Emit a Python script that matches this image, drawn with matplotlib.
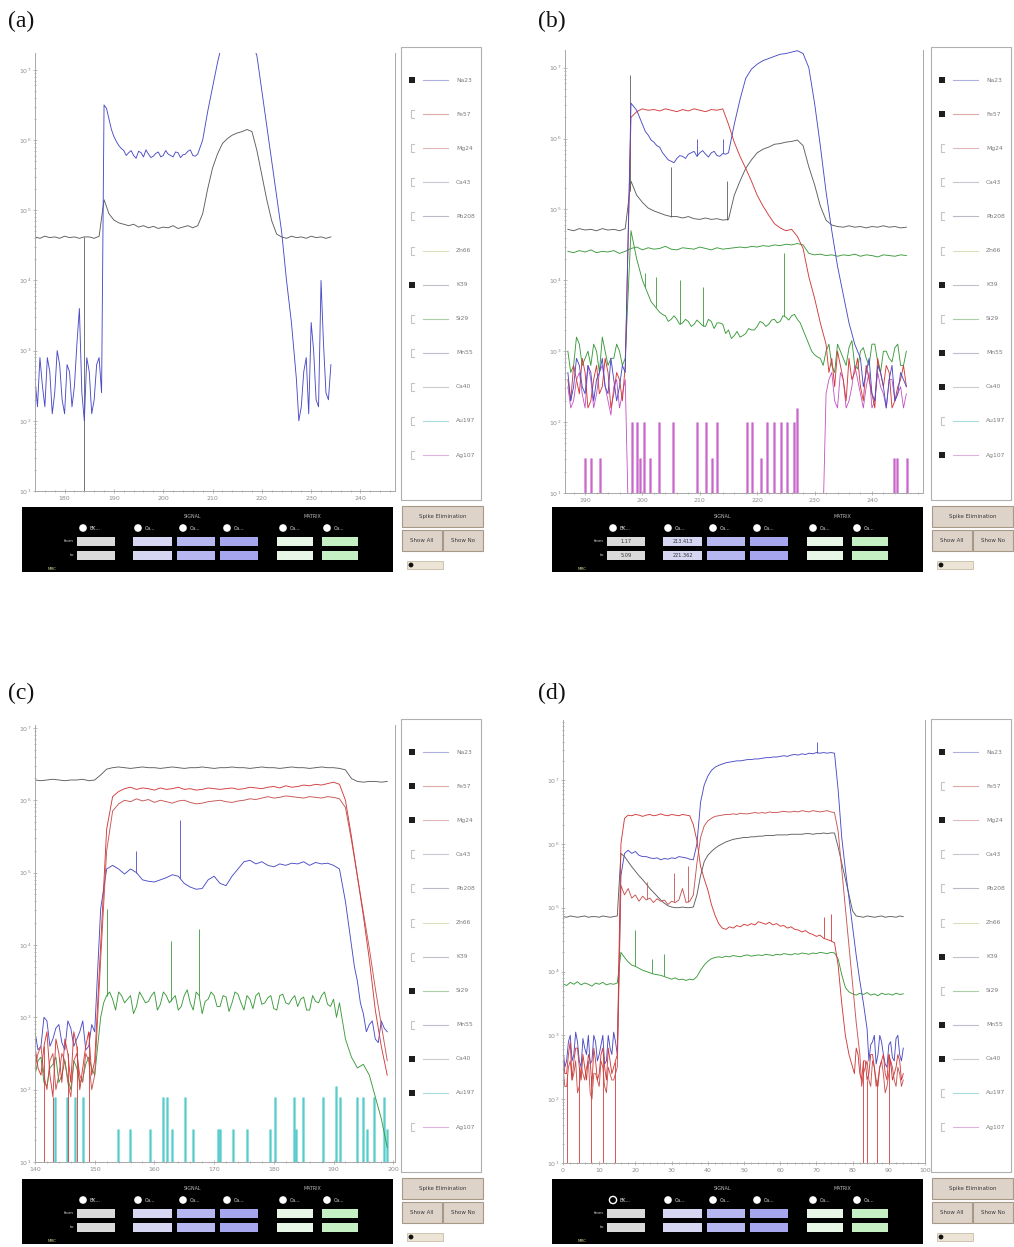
import numpy as np
import matplotlib
matplotlib.use("Agg")
import matplotlib.pyplot as plt
from matplotlib.patches import Rectangle, Circle
from matplotlib.ticker import LogLocator, MultipleLocator, NullFormatter

W, H = 1014, 1247
plt.rcParams["font.family"] = ["DejaVu Sans"]

# ---------------------------------------------------------------------------
# Element list shown in every legend panel
# ---------------------------------------------------------------------------
ELEMENTS = ["Na23", "Fe57", "Mg24", "Ca43", "Pb208", "Zn66",
            "K39", "Si29", "Mn55", "Ca40", "Au197", "Ag107"]
checked_a = [1, 0, 0, 0, 0, 0, 1, 0, 0, 0, 0, 0]
checked_b = [1, 1, 0, 0, 0, 0, 1, 0, 1, 1, 0, 1]
checked_c = [1, 1, 1, 0, 0, 0, 0, 1, 0, 1, 1, 0]
checked_d = [1, 0, 1, 0, 0, 0, 1, 0, 1, 1, 0, 0]

# ---------------------------------------------------------------------------
# Time-resolved signals, log10(counts per second).
# Main arrays: one sample per second from the start time.
# *_h arrays: (first time, values) for the extra half-second readings.
# ---------------------------------------------------------------------------
# (a) start time 174 s
A_T0 = 174
a_na23 = [2.6, 2.9, 2.2, 2.7, 2.4, 2.8, 2.1, 2.7, 2.5, 3.6, 2.0, 2.7, 2.3, 2.9,
          6.5, 6.3, 6.05, 5.92, 5.85, 5.82, 5.78, 5.84, 5.76, 5.8, 5.77, 5.83, 5.78, 5.8,
          5.76, 5.82, 5.79, 5.84, 5.78, 5.8,
          6.0, 6.4, 6.75, 7.1, 7.4, 7.4, 7.4, 7.4, 7.4, 7.4, 7.4,
          7.2, 6.7, 6.2, 5.7, 5.2, 4.7, 4.0, 3.4, 2.6, 2.2, 2.9, 3.4, 2.3, 4.0, 2.4, 2.8]
a_na23_h = [(174.5, [2.2, 2.5, 2.9, 2.1, 3.0, 2.3, 2.8, 2.2, 3.1, 2.4, 2.9, 2.1, 2.8, 2.4]),
            (188.5, [6.45, 6.15, 5.98, 5.88, 5.78, 5.85, 5.74, 5.82, 5.86, 5.75, 5.81, 5.76,
                     5.85, 5.78, 5.83, 5.75, 5.8, 5.86, 5.77]),
            (227.5, [2.0, 2.7, 2.1, 3.0, 2.2, 3.1, 2.3])]
a_k39 = [4.62, 4.6, 4.63, 4.61, 4.62, 4.6, 4.63, 4.61, 4.62, 4.6, 4.62, 4.62, 4.6, 4.63,
         5.15, 4.95, 4.86, 4.82, 4.8, 4.78, 4.8, 4.76, 4.78, 4.75, 4.77, 4.74, 4.76, 4.75,
         4.78, 4.74, 4.76, 4.78, 4.75, 4.78,
         4.95, 5.3, 5.6, 5.8, 5.95, 6.02, 6.07, 6.1, 6.12, 6.15, 6.12,
         5.85, 5.5, 5.15, 4.85, 4.66, 4.62, 4.6, 4.63, 4.61, 4.62, 4.6, 4.63, 4.61, 4.62,
         4.6, 4.62]
a_k39_drop_t = [184.0]

# (b) start time 187 s
B_T0 = 187
b_na23 = [2.7, 2.5, 2.8, 2.4, 2.7, 2.6, 2.9, 2.4, 2.6, 2.5, 2.7,
          6.5, 6.4, 6.2, 6.05, 5.95, 5.88, 5.75, 5.68, 5.72, 5.75, 5.78, 5.82, 5.8, 5.78,
          5.8, 5.76, 5.79, 5.8,
          6.2, 6.55, 6.85, 6.98, 7.05, 7.1, 7.13, 7.16, 7.19, 7.2, 7.22, 7.24, 7.2,
          7.0, 6.5, 5.9, 5.25, 4.7, 4.2, 3.8, 3.4, 3.1, 2.9, 2.7, 2.4, 2.8, 2.5, 2.6, 2.3,
          2.7, 2.5]
b_na23_h = [(187.5, [2.3, 2.9, 2.5, 2.8, 2.3, 2.7, 2.5, 2.9, 2.3, 2.8]),
            (199.5, [6.3, 6.1, 5.98, 5.9, 5.8, 5.7, 5.66, 5.76, 5.72, 5.8, 5.75, 5.83,
                     5.74, 5.82, 5.75, 5.78]),
            (238.5, [2.5, 2.9, 2.3, 2.7, 2.2, 2.8, 2.4, 2.6])]
b_na23_spk_t = [209.5, 214.0]
b_na23_spk_v = [6.0, 6.0]
b_k39 = [4.72, 4.7, 4.73, 4.71, 4.72, 4.7, 4.73, 4.71, 4.72, 4.7, 4.73,
         5.4, 5.2, 5.1, 5.02, 4.98, 4.95, 4.92, 4.9, 4.9, 4.88, 4.9, 4.87, 4.86, 4.88,
         4.86, 4.87, 4.85, 4.86,
         5.2, 5.4, 5.58, 5.7, 5.8, 5.85, 5.88, 5.92, 5.93, 5.95, 5.96, 5.98, 5.9,
         5.6, 5.35, 5.05, 4.85, 4.78, 4.76, 4.75, 4.77, 4.75, 4.76, 4.74, 4.76, 4.75,
         4.77, 4.75, 4.76, 4.74, 4.75]
b_k39_spk_t = [197.8, 205.0, 214.7]
b_k39_spk_v = [6.9, 5.6, 5.4]
b_fe57 = [2.6, 2.8, 2.4, 2.7, 2.3, 2.8, 2.5, 2.7, 2.4, 2.6, 2.8,
          6.3, 6.38, 6.42, 6.4, 6.41, 6.39, 6.42, 6.4, 6.38, 6.41, 6.39, 6.42, 6.4, 6.38,
          6.41, 6.4, 6.42,
          6.2, 5.95, 5.75, 5.58, 5.4, 5.2, 5.05, 4.92, 4.8, 4.74, 4.7, 4.72, 4.62, 4.45,
          4.05, 3.75, 3.4, 3.1, 2.9, 3.0, 2.6, 2.9, 2.7, 2.5, 2.8, 2.4, 2.9, 2.5, 2.7,
          2.3, 2.6, 2.5]
b_fe57_h = [(187.5, [2.3, 2.6, 2.9, 2.2, 2.6, 2.4, 2.9, 2.2, 2.7, 2.3]),
            (232.5, [2.7, 2.5, 2.8, 2.3, 2.6, 2.9, 2.3, 2.6, 2.2, 2.7, 2.8, 2.2, 2.5, 2.8])]
b_ca40 = [4.41, 4.39, 4.42, 4.40, 4.43, 4.39, 4.41, 4.40, 4.42, 4.38, 4.41,
          4.45, 4.47, 4.43, 4.46, 4.44, 4.45, 4.48, 4.44, 4.43, 4.46, 4.45, 4.44, 4.47,
          4.45, 4.43, 4.46, 4.44, 4.45, 4.46, 4.47, 4.46, 4.48, 4.47, 4.49, 4.48, 4.5,
          4.49, 4.51, 4.5, 4.52, 4.5,
          4.38, 4.36, 4.37, 4.35, 4.36, 4.34, 4.36, 4.35, 4.37, 4.34, 4.36, 4.35, 4.33,
          4.36, 4.35, 4.34, 4.36, 4.35]
b_mn55 = [3.0, 2.8, 3.1, 2.9, 2.8, 3.0, 3.2, 2.8, 2.9, 3.0, 2.9,
          4.7, 4.3, 4.0, 3.8, 3.65, 3.55, 3.5, 3.45, 3.45, 3.4, 3.42, 3.38, 3.4, 3.35,
          3.42, 3.4, 3.38, 3.3, 3.22, 3.2, 3.25, 3.3, 3.35, 3.4, 3.38, 3.45, 3.42, 3.48,
          3.5, 3.45, 3.3, 3.1, 2.95, 2.9,
          3.0, 2.8, 3.1, 2.9, 3.05, 2.8, 3.0, 2.9, 3.1, 2.85, 3.0, 2.9, 3.05, 2.8, 3.0]
b_mn55_h = [(187.5, [2.7, 3.2, 2.8, 3.0, 3.1, 2.7, 3.0, 2.9, 3.1, 2.8]),
            (199.5, [4.15, 3.9, 3.7, 3.6, 3.52, 3.42, 3.5, 3.38, 3.45, 3.35,
                     3.44, 3.36, 3.45, 3.32, 3.4, 3.25, 3.18, 3.28, 3.22, 3.32,
                     3.3, 3.42, 3.35, 3.44, 3.4, 3.5, 3.44, 3.52, 3.4, 3.2, 3.0, 2.92]),
            (231.5, [2.8, 3.1, 2.7, 3.0, 2.8, 3.15, 2.75, 3.05, 2.8, 3.1, 2.7, 3.0, 2.85,
                     3.1, 2.8])]
b_mn55_spk_t = [200.5, 202.3, 206.5, 210.5, 224.7]
b_mn55_spk_v = [4.1, 4.05, 4.0, 3.9, 4.38]
b_ag107 = [2.5, 2.3, 2.7, 2.2, 2.6, 2.4, 2.8, 2.3, 2.5, 2.2, 2.6] + [-1.0] * 34 + \
          [2.4, 2.7, 2.2, 2.6, 2.3, 2.8, 2.4, 2.5, 2.2, 2.7, 2.4, 2.6, 2.3, 2.5, 2.4]
b_ag107_h = [(187.5, [2.2, 2.6, 2.4, 2.8, 2.2, 2.7, 2.5, 2.1, 2.6, 2.4]),
             (232.5, [2.6, 2.3, 2.7, 2.2, 2.5, 2.6, 2.2, 2.7, 2.3, 2.5, 2.2, 2.6, 2.4, 2.2])]
b_ag107_bar_t = [190.0, 191.1, 192.6, 198.1, 199.0, 199.6, 200.2, 201.3, 202.8, 205.4,
                 209.5, 211.0, 212.1, 213.0, 218.2, 219.1, 220.6, 221.7, 222.9, 224.1,
                 225.2, 226.4, 226.9, 243.8, 244.4, 246.1]
b_ag107_bar_v = [1.5, 1.5, 1.5, 2.0, 2.0, 1.5, 2.0, 1.5, 2.0, 2.0,
                 2.0, 2.0, 1.5, 2.0, 2.0, 2.0, 1.5, 2.0, 2.0, 2.0,
                 2.0, 2.0, 2.2, 1.5, 1.5, 1.5]

# (c) start time 140 s
C_T0 = 140
c_ca40 = [6.28, 6.27, 6.28, 6.29, 6.28, 6.27, 6.28, 6.28, 6.29, 6.27, 6.28,
          6.35, 6.43,
          6.45, 6.46, 6.45, 6.44, 6.45, 6.46, 6.45, 6.45, 6.44, 6.45,
          6.46, 6.45, 6.44, 6.45, 6.45, 6.46, 6.45, 6.44, 6.45, 6.45,
          6.46, 6.45, 6.45, 6.44, 6.45, 6.46, 6.45, 6.45, 6.44, 6.45,
          6.46, 6.45, 6.45, 6.44, 6.45, 6.46, 6.45, 6.45, 6.44,
          6.42, 6.3,
          6.26, 6.25, 6.26, 6.26, 6.25, 6.26]
c_fe57 = [2.6, 2.2, 2.8, 1.9, 2.5, 2.7, 2.1, 2.6, 2.3, 2.8, 2.4,
          4.0, 5.6, 6.05, 6.12,
          6.16, 6.18, 6.15, 6.17, 6.16, 6.14, 6.17, 6.15, 6.16, 6.18,
          6.15, 6.16, 6.14, 6.15, 6.17, 6.16, 6.15, 6.16, 6.17, 6.15,
          6.16, 6.18, 6.17, 6.16, 6.18, 6.19, 6.17, 6.2, 6.18, 6.19,
          6.21, 6.2, 6.22, 6.21, 6.23, 6.25, 6.22,
          6.0, 5.5, 4.95, 4.4, 3.8, 3.1, 2.6, 2.2]
c_fe57_h = [(140.5, [2.3, 2.6, 2.2, 2.7, 2.1, 2.5, 2.8, 2.0, 2.6, 2.2])]
c_fe57_drop_t = [141.5, 143.0, 145.5, 147.0, 149.0]
c_mg24 = [2.3, 2.6, 2.0, 2.5, 2.2, 2.4, 1.9, 2.5, 2.1, 2.4, 2.2,
          3.8, 5.3, 5.85, 5.95,
          6.0, 5.98, 6.02, 5.99, 6.01, 5.97, 6.0, 5.98, 5.96, 5.99,
          6.0, 5.97, 5.95, 5.96, 5.98, 5.99, 6.0, 5.98, 5.97, 5.99,
          6.0, 6.02, 6.01, 6.03, 6.05, 6.03, 6.04, 6.06, 6.05, 6.04,
          6.03, 6.05, 6.04, 6.03, 6.05, 6.04, 6.02,
          5.9, 5.45, 4.95, 4.45, 3.95, 3.4, 2.9, 2.4]
c_mg24_h = [(140.5, [2.5, 2.2, 2.4, 2.0, 2.5, 2.1, 2.4, 2.2, 2.5, 2.0])]
c_na23 = [2.8, 2.6, 2.95, 2.7, 2.9, 2.55, 2.85, 2.7, 2.95, 2.6, 2.8,
          4.5, 5.05, 5.1, 5.05, 4.98, 5.05, 5.0, 4.9, 4.88, 4.87,
          4.9, 4.93, 4.97, 4.95, 4.85, 4.8, 4.77, 4.78, 4.9, 4.95,
          4.85, 4.82, 4.95, 5.05, 5.15, 5.17, 5.12, 5.15, 5.1, 5.08,
          5.12, 5.1, 5.13, 5.12, 5.15, 5.1, 5.14, 5.12, 5.13, 5.1,
          5.05,
          4.6, 4.0, 3.5, 3.05, 2.9, 2.7, 2.95, 2.8]
c_na23_h = [(140.5, [2.55, 3.0, 2.6, 2.85, 2.65, 2.95, 2.6, 2.8, 2.55, 2.9]),
            (193.5, [3.7, 3.2, 2.8, 2.95, 2.65, 2.85])]
c_na23_spk_t = [157.0, 164.3]
c_na23_spk_v = [5.3, 5.73]
c_si29 = [2.2, 2.45, 2.05, 2.35, 2.1, 2.4, 2.0, 2.3, 2.15, 2.45, 2.2,
          3.0, 3.3, 3.25, 3.35, 3.2, 3.3, 3.15, 3.28, 3.22, 3.35,
          3.18, 3.3, 3.25, 3.1, 3.3, 3.2, 3.35, 3.05, 3.25, 3.3,
          3.15, 3.28, 3.2, 3.32, 3.1, 3.25, 3.3, 3.18, 3.27, 3.12,
          3.3, 3.2, 3.25, 3.15, 3.28, 3.1, 3.22, 3.3, 3.18, 3.25,
          3.2,
          2.7, 2.45, 2.3, 2.35, 2.2, 1.9, 1.6, 1.2]
c_si29_h = [(140.5, [2.4, 2.1, 2.3, 2.45, 2.2, 2.15, 2.4, 2.1, 2.35, 2.3]),
            (151.5, [3.2, 3.35, 3.1, 3.3, 3.25, 3.05, 3.35, 3.2, 3.3, 3.1,
                     3.35, 3.2, 3.3, 3.15, 3.38, 3.1, 3.3, 3.22, 3.35, 3.15,
                     3.3, 3.08, 3.35, 3.2, 3.3, 3.12, 3.34, 3.2, 3.3, 3.1,
                     3.32, 3.18, 3.3, 3.25, 3.1, 3.3, 3.2, 3.35, 3.15, 3.0])]
c_si29_spk_t = [152.0, 162.7, 167.5]
c_si29_spk_v = [4.5, 4.05, 4.22]
c_au197_bar_t = [143.35, 145.3, 146.7, 148.1, 153.9, 155.9, 159.3, 161.5, 162.1, 162.9,
                 165.1, 166.5, 170.7, 171.0, 173.2, 175.5, 179.4, 180.2, 183.3, 183.8,
                 184.9, 188.3, 190.5, 191.1, 193.9, 195.0, 195.6, 196.7, 198.4, 198.9]
c_au197_bar_v = [1.9, 1.9, 1.9, 1.9, 1.45, 1.45, 1.45, 1.9, 1.9, 1.45,
                 1.9, 1.45, 1.45, 1.45, 1.45, 1.45, 1.45, 1.9, 1.9, 1.45,
                 1.9, 1.9, 2.05, 1.9, 1.9, 1.9, 1.45, 1.9, 1.9, 1.45]

# (d) start time 0 s
D_T0 = 0
d_k39 = [4.86, 4.85, 4.87, 4.86, 4.85, 4.86, 4.87, 4.85, 4.86, 4.86, 4.85, 4.87, 4.86,
         4.85, 4.86, 4.87,
         5.85, 5.8, 5.72, 5.64, 5.57, 5.5, 5.44, 5.37, 5.3, 5.24, 5.18, 5.12, 5.07, 5.03,
         5.01, 5.0, 5.0, 5.01, 5.0, 5.0, 5.01,
         5.2, 5.5, 5.72, 5.82, 5.88, 5.93, 5.97, 6.0, 6.03, 6.05,
         6.07, 6.08, 6.09, 6.1, 6.1, 6.11, 6.11, 6.12, 6.12, 6.13,
         6.13, 6.13, 6.14, 6.14, 6.14, 6.14, 6.15, 6.15, 6.15, 6.15,
         6.16, 6.16, 6.15, 6.16, 6.16, 6.17, 6.16, 6.17, 6.17,
         5.95, 5.7, 5.45, 5.2, 4.95, 4.87, 4.86, 4.85, 4.87, 4.86, 4.85, 4.86, 4.87, 4.85,
         4.86, 4.86, 4.85, 4.87, 4.86]
d_na23 = [2.8, 2.6, 3.0, 2.7, 2.9, 2.5, 2.8, 3.0, 2.6, 2.9, 2.7, 3.0, 2.6, 2.8, 3.05, 2.7,
          5.5, 5.85, 5.9, 5.85, 5.88, 5.82, 5.8, 5.8, 5.78, 5.77, 5.78, 5.75, 5.77, 5.76,
          5.78, 5.77, 5.8, 5.79, 5.78, 5.76, 5.75,
          6.0, 6.65, 6.92, 7.06, 7.15, 7.2, 7.23, 7.25, 7.27, 7.28,
          7.29, 7.3, 7.3, 7.31, 7.32, 7.32, 7.33, 7.33, 7.34, 7.35,
          7.35, 7.36, 7.36, 7.37, 7.38, 7.37, 7.39, 7.4, 7.39, 7.41,
          7.4, 7.42, 7.41, 7.43, 7.42, 7.43, 7.42, 7.43, 7.42,
          6.85, 6.1, 5.6, 5.15, 4.7, 4.25, 3.85, 3.5, 3.1, 2.85, 3.0, 2.7, 2.9, 2.55, 2.85,
          2.65, 2.95, 2.7, 2.8]
d_na23_h = [(0.5, [2.5, 2.9, 2.6, 3.05, 2.6, 2.95, 2.7, 2.55, 3.0, 2.6, 2.85, 2.55, 3.0,
                   2.7, 2.9]),
            (84.5, [2.6, 2.9, 2.55, 3.0, 2.7, 2.5, 2.9, 2.6, 3.0, 2.6])]
d_na23_spk_t = [70.2]
d_na23_spk_v = [7.6]
d_mn55 = [2.7, 2.4, 2.9, 2.6, 2.8, 2.3, 2.5, 2.7, 2.2, 2.6, 2.4, 2.8, 2.3, 2.6, 2.5, 2.7,
          6.0, 6.4, 6.45, 6.44, 6.46, 6.45, 6.43, 6.45, 6.46, 6.44, 6.45, 6.47, 6.45, 6.44,
          6.46, 6.45, 6.44, 6.46, 6.45, 6.44,
          6.3, 6.05, 5.65, 5.45, 5.28, 5.05, 4.88, 4.75, 4.68,
          4.66, 4.7, 4.68, 4.72, 4.7, 4.74, 4.72, 4.75, 4.73, 4.78,
          4.76, 4.74, 4.77, 4.73, 4.75, 4.71, 4.72, 4.68, 4.7, 4.66,
          4.65, 4.62, 4.64, 4.6, 4.58, 4.55, 4.57, 4.52, 4.5, 4.48, 4.45,
          4.1, 3.5, 3.0, 2.7, 2.5, 2.8, 2.4, 2.6, 2.3, 2.7, 2.5, 2.2, 2.6, 2.4, 2.7, 2.3,
          2.5, 2.6, 2.4]
d_mn55_h = [(0.5, [2.4, 2.7, 2.3, 2.8, 2.5, 2.7, 2.3, 2.6, 2.8, 2.3, 2.7, 2.5, 2.8, 2.4,
                   2.6]),
            (79.5, [2.6, 2.4, 2.7, 2.3, 2.6, 2.4, 2.7, 2.3, 2.5, 2.7, 2.3, 2.6, 2.4, 2.7,
                    2.3])]
d_mn55_spk_t = [72.0, 74.0]
d_mn55_spk_v = [4.85, 4.9]
d_red_drop_t = [1.0, 4.5, 7.8, 11.1, 14.4, 83.0, 84.0, 86.7, 90.0]
d_fe57 = [2.5, 2.2, 2.6, 2.4, 2.1, 2.5, 2.3, 2.6, 2.0, 2.4, 2.2, 2.5, 2.1, 2.4, 2.3, 2.5,
          5.35, 5.2, 5.3, 5.15, 5.2, 5.1, 5.18, 5.12, 5.15, 5.08, 5.14, 5.1, 5.12, 5.05,
          5.1, 5.08, 5.12, 5.3, 5.08, 5.1, 5.2,
          5.7, 6.1, 6.28, 6.36, 6.4, 6.43, 6.44, 6.45, 6.46, 6.46,
          6.47, 6.46, 6.48, 6.47, 6.47, 6.48, 6.49, 6.48, 6.49, 6.48,
          6.5, 6.49, 6.49, 6.5, 6.51, 6.5, 6.5, 6.51, 6.5, 6.52,
          6.51, 6.5, 6.52, 6.51, 6.5, 6.51, 6.52, 6.5, 6.49,
          6.2, 5.6, 5.0, 4.4, 3.8, 3.2, 2.7, 2.4, 2.6, 2.2, 2.5, 2.3, 2.6, 2.1, 2.4, 2.5,
          2.2, 2.4, 2.3]
d_fe57_h = [(0.5, [2.2, 2.5, 2.3, 2.6, 2.2, 2.4, 2.5, 2.1, 2.4, 2.3, 2.6, 2.2, 2.5, 2.3,
                   2.4]),
            (82.5, [2.2, 2.5, 2.3, 2.6, 2.2, 2.5, 2.4, 2.2, 2.6, 2.3, 2.5, 2.2])]
d_fe57_spk_t = [23.3, 30.7, 34.5]
d_fe57_spk_v = [5.4, 5.55, 5.65]
d_si29 = [3.81, 3.78, 3.83, 3.8, 3.84, 3.79, 3.82, 3.8, 3.77, 3.82, 3.8, 3.83, 3.79,
          3.81, 3.8, 3.82,
          4.3, 4.22, 4.15, 4.1, 4.08, 4.05, 4.02, 4.0, 3.98, 3.96, 3.95, 3.94, 3.92, 3.9,
          3.88, 3.9, 3.87, 3.88, 3.86, 3.88, 3.87,
          3.92, 4.02, 4.1, 4.16, 4.2, 4.22, 4.23, 4.22, 4.24, 4.23,
          4.25, 4.24, 4.23, 4.25, 4.26, 4.24, 4.25, 4.26, 4.25, 4.27,
          4.26, 4.25, 4.27, 4.26, 4.28, 4.27, 4.26, 4.28, 4.27, 4.29,
          4.28, 4.27, 4.29, 4.28, 4.3, 4.29, 4.28, 4.3, 4.29,
          4.2, 3.95, 3.75, 3.68, 3.65, 3.63, 3.66, 3.64, 3.67, 3.63, 3.65, 3.62, 3.66,
          3.64, 3.65, 3.63, 3.66, 3.64, 3.65]
d_si29_spk_t = [20.0, 24.5, 27.9]
d_si29_spk_v = [4.65, 4.2, 4.28]

# Axis tick labels
a_xticks = [180, 190, 200, 210, 220, 230, 240]
b_xticks = [190, 200, 210, 220, 230, 240]
c_xticks = [140, 150, 160, 170, 180, 190, 200]
d_xticks = [0, 10, 20, 30, 40, 50, 60, 70, 80, 90, 100]

# ---------------------------------------------------------------------------
BLUE, RED, RED2, GRAY = "#4b4bc6", "#d23a3a", "#c85454", "#5e5e5e"
GREEN, MAGENTA, CYAN = "#3b9a3b", "#c24fc2", "#3fc4c4"
LEGEND_COLORS = ["#7a7ad0", "#d07070", "#d08888", "#a0a0b4", "#8a8aa0", "#c8c890",
                 "#9a9aae", "#70b070", "#9090bc", "#ababab", "#70c4c4", "#c880c8"]

fig = plt.figure(figsize=(W / 100, H / 100), dpi=100)
fig.patch.set_facecolor("white")


def px_axes(x0, y0, x1, y1, **kw):
    return fig.add_axes([x0 / W, 1 - y1 / H, (x1 - x0) / W, (y1 - y0) / H], **kw)


def style_axes(ax, xlim, ylog, xticks, xminor):
    ax.set_yscale("log")
    ax.set_xlim(*xlim)
    ax.set_ylim(10.0 ** ylog[0], 10.0 ** ylog[1])
    ax.set_xticks(xticks)
    ax.xaxis.set_minor_locator(MultipleLocator(xminor))
    ax.yaxis.set_major_locator(LogLocator(base=10, numticks=15))
    ax.yaxis.set_minor_locator(LogLocator(base=10, subs=np.arange(2, 10) * 1.0, numticks=15))
    ax.yaxis.set_minor_formatter(NullFormatter())
    ax.tick_params(which="both", direction="inout", colors="#a0a0a0",
                   labelcolor="#8c8c8c", labelsize=4.5, width=0.5)
    ax.tick_params(which="major", length=3)
    ax.tick_params(which="minor", length=1.6)
    ax.tick_params(axis="y", pad=1)
    ax.tick_params(axis="x", pad=2)
    for side in ("left", "bottom", "right"):
        ax.spines[side].set_color("#a8a8a8")
        ax.spines[side].set_linewidth(0.7)
    ax.spines["top"].set_visible(False)


def trace(ax, t0, values, color, lw=0.65, halves=(), spk_t=None, spk_v=None,
          drop_t=None, z=2):
    t = list(t0 + np.arange(len(values)))
    v = list(values)
    for h0, hv in halves:
        t += list(h0 + np.arange(len(hv)))
        v += list(hv)
    order = np.argsort(t)
    t = np.asarray(t, dtype=float)[order]
    v = np.asarray(v, dtype=float)[order]
    ax.plot(t, 10.0 ** v, color=color, lw=lw, zorder=z)
    if spk_t:
        base = np.interp(spk_t, t, v)
        ax.vlines(spk_t, 10.0 ** base, 10.0 ** np.asarray(spk_v), color=color, lw=0.6, zorder=z)
    if drop_t:
        base = np.interp(drop_t, t, v)
        ax.vlines(drop_t, 0.1, 10.0 ** base, color=color, lw=0.6, zorder=z)


def bars(ax, bar_t, bar_v, color):
    ax.vlines(bar_t, 0.1, 10.0 ** np.asarray(bar_v), color=color, lw=2.2, alpha=0.55, zorder=1)
    ax.vlines(bar_t, 0.1, 10.0 ** np.asarray(bar_v), color=color, lw=0.5, zorder=1)


# ---------------- (a) ----------------
ax_a = px_axes(35, 53, 395, 491)
style_axes(ax_a, (174, 247), (1, 7.24), a_xticks, 2)
trace(ax_a, A_T0, a_k39, GRAY, drop_t=a_k39_drop_t)
trace(ax_a, A_T0, a_na23, BLUE, halves=a_na23_h)

# ---------------- (b) ----------------
ax_b = px_axes(565, 50, 923, 493)
style_axes(ax_b, (186.5, 248.9), (1, 7.25), b_xticks, 2)
bars(ax_b, b_ag107_bar_t, b_ag107_bar_v, MAGENTA)
trace(ax_b, B_T0, b_ag107, MAGENTA, lw=0.6, halves=b_ag107_h)
trace(ax_b, B_T0, b_ca40, GREEN)
trace(ax_b, B_T0, b_mn55, GREEN, halves=b_mn55_h, spk_t=b_mn55_spk_t, spk_v=b_mn55_spk_v)
trace(ax_b, B_T0, b_k39, GRAY, spk_t=b_k39_spk_t, spk_v=b_k39_spk_v)
trace(ax_b, B_T0, b_fe57, RED, halves=b_fe57_h)
trace(ax_b, B_T0, b_na23, BLUE, halves=b_na23_h, spk_t=b_na23_spk_t, spk_v=b_na23_spk_v)

# ---------------- (c) ----------------
ax_c = px_axes(35, 725, 395, 1162)
style_axes(ax_c, (140, 200.3), (1, 7.04), c_xticks, 2)
bars(ax_c, c_au197_bar_t, c_au197_bar_v, CYAN)
trace(ax_c, C_T0, c_si29, GREEN, halves=c_si29_h, spk_t=c_si29_spk_t, spk_v=c_si29_spk_v)
trace(ax_c, C_T0, c_na23, BLUE, halves=c_na23_h, spk_t=c_na23_spk_t, spk_v=c_na23_spk_v)
trace(ax_c, C_T0, c_mg24, RED2, halves=c_mg24_h)
trace(ax_c, C_T0, c_fe57, RED, halves=c_fe57_h, drop_t=c_fe57_drop_t)
trace(ax_c, C_T0, c_ca40, GRAY)

# ---------------- (d) ----------------
ax_d = px_axes(563, 720, 925, 1163)
style_axes(ax_d, (0, 100), (1, 7.94), d_xticks, 2)
trace(ax_d, D_T0, d_si29, GREEN, spk_t=d_si29_spk_t, spk_v=d_si29_spk_v)
trace(ax_d, D_T0, d_k39, GRAY)
trace(ax_d, D_T0, d_na23, BLUE, halves=d_na23_h, spk_t=d_na23_spk_t, spk_v=d_na23_spk_v)
trace(ax_d, D_T0, d_fe57, RED2, halves=d_fe57_h, spk_t=d_fe57_spk_t, spk_v=d_fe57_spk_v)
trace(ax_d, D_T0, d_mn55, RED, halves=d_mn55_h, spk_t=d_mn55_spk_t, spk_v=d_mn55_spk_v,
      drop_t=d_red_drop_t)

# ---------------------------------------------------------------------------
# Surrounding window elements drawn in pixel coordinates
# ---------------------------------------------------------------------------
deco = fig.add_axes([0, 0, 1, 1], zorder=5)
deco.set_xlim(0, W)
deco.set_ylim(H, 0)
deco.axis("off")


def window(dx, dy, label, checked, values=None, hollow_first=False):
    deco.text(8 + dx, 21 + dy, label, family="Liberation Serif", fontsize=17,
              ha="left", va="center", color="#111111")
    # element legend
    deco.add_patch(Rectangle((401 + dx, 47 + dy), 80, 453, fill=False,
                             ec="#b0b0b0", lw=0.8))
    for i, name in enumerate(ELEMENTS):
        y = 80 + dy + i * 34.1
        mx = 412 + dx
        if checked[i]:
            deco.add_patch(Rectangle((mx - 3, y - 3), 6, 6, color="#1e1e1e", lw=0))
        else:
            deco.plot([mx + 2, mx - 1.5, mx - 1.5, mx + 2], [y - 4, y - 4, y + 4, y + 4],
                      color="#c4c4c4", lw=0.8)
        deco.plot([423 + dx, 448 + dx], [y, y], color=LEGEND_COLORS[i], lw=0.8, alpha=0.6)
        deco.text(456 + dx, y, name, fontsize=4.3, color="#7a7a7a", va="center", ha="left")

    # control strip
    deco.add_patch(Rectangle((22 + dx, 507 + dy), 371, 65, color="black", lw=0))
    deco.text(193 + dx, 516 + dy, "SIGNAL", fontsize=3.4, color="#bdbdbd", ha="center", va="center")
    deco.text(312 + dx, 516 + dy, "MATRIX", fontsize=3.4, color="#bdbdbd", ha="center", va="center")
    circ_x = [83, 138, 183, 227, 283, 327]
    names = ["BK...", "Ca...", "Ca...", "Ca...", "Ca...", "Ca..."]
    for k, (cx, nm) in enumerate(zip(circ_x, names)):
        if hollow_first and k == 0:
            deco.add_patch(Circle((cx + dx, 528 + dy), 3.6, fill=False, ec="white", lw=1.0))
        else:
            deco.add_patch(Circle((cx + dx, 528 + dy), 3.8, color="white", lw=0))
        deco.text(cx + 7 + dx, 528 + dy, nm, fontsize=3.4, color="#e0e0e0", va="center")
    deco.text(74 + dx, 541 + dy, "from", fontsize=3.2, color="#c8c8c8", ha="right", va="center")
    deco.text(74 + dx, 555 + dy, "to", fontsize=3.2, color="#c8c8c8", ha="right", va="center")
    cols = [(77, 115), (133, 172), (177, 215), (220, 258), (277, 313), (322, 358)]
    fills = ["#dadada", "#d6d6f2", "#b6b6f0", "#a6a6ee", "#e8f6e8", "#c4f0c4"]
    for (x0, x1), fc in zip(cols, fills):
        for y0 in (537, 551):
            deco.add_patch(Rectangle((x0 + dx, y0 + dy), x1 - x0, 8.5, color=fc, lw=0))
    if values:
        for (x0, x1), (top, bot) in zip(cols[:2], values):
            deco.text((x0 + x1) / 2 + dx, 541.5 + dy, top, fontsize=3.6, color="#333",
                      ha="center", va="center")
            deco.text((x0 + x1) / 2 + dx, 555.5 + dy, bot, fontsize=3.6, color="#333",
                      ha="center", va="center")
    deco.text(48 + dx, 569 + dy, "MRC", fontsize=3.0, color="#d8d890", ha="left", va="center")

    # buttons
    def button(x0, y0, x1, y1, txt):
        deco.add_patch(Rectangle((x0 + dx, y0 + dy), x1 - x0, y1 - y0, fc="#ddd3c8",
                                 ec="#a89888", lw=0.8))
        deco.text((x0 + x1) / 2 + dx, (y0 + y1) / 2 + dy, txt, fontsize=4.0,
                  color="#3a3a3a", ha="center", va="center")
    button(402, 506, 483, 527, "Spike Elimination")
    button(402, 530, 442, 551, "Show All")
    button(443, 530, 483, 551, "Show No")
    deco.add_patch(Rectangle((407 + dx, 561 + dy), 36, 8, fc="#ece4d4", ec="#c8bca8", lw=0.6))
    deco.add_patch(Circle((411 + dx, 565 + dy), 2.4, color="#111", lw=0))


window(0, 0, "(a)", checked_a)
window(530, 0, "(b)", checked_b, values=[("1.17", "5.09"), ("213.413", "221.362")])
window(0, 672, "(c)", checked_c)
window(530, 672, "(d)", checked_d, hollow_first=True)

fig.savefig("out.png", dpi=100, facecolor="white")
